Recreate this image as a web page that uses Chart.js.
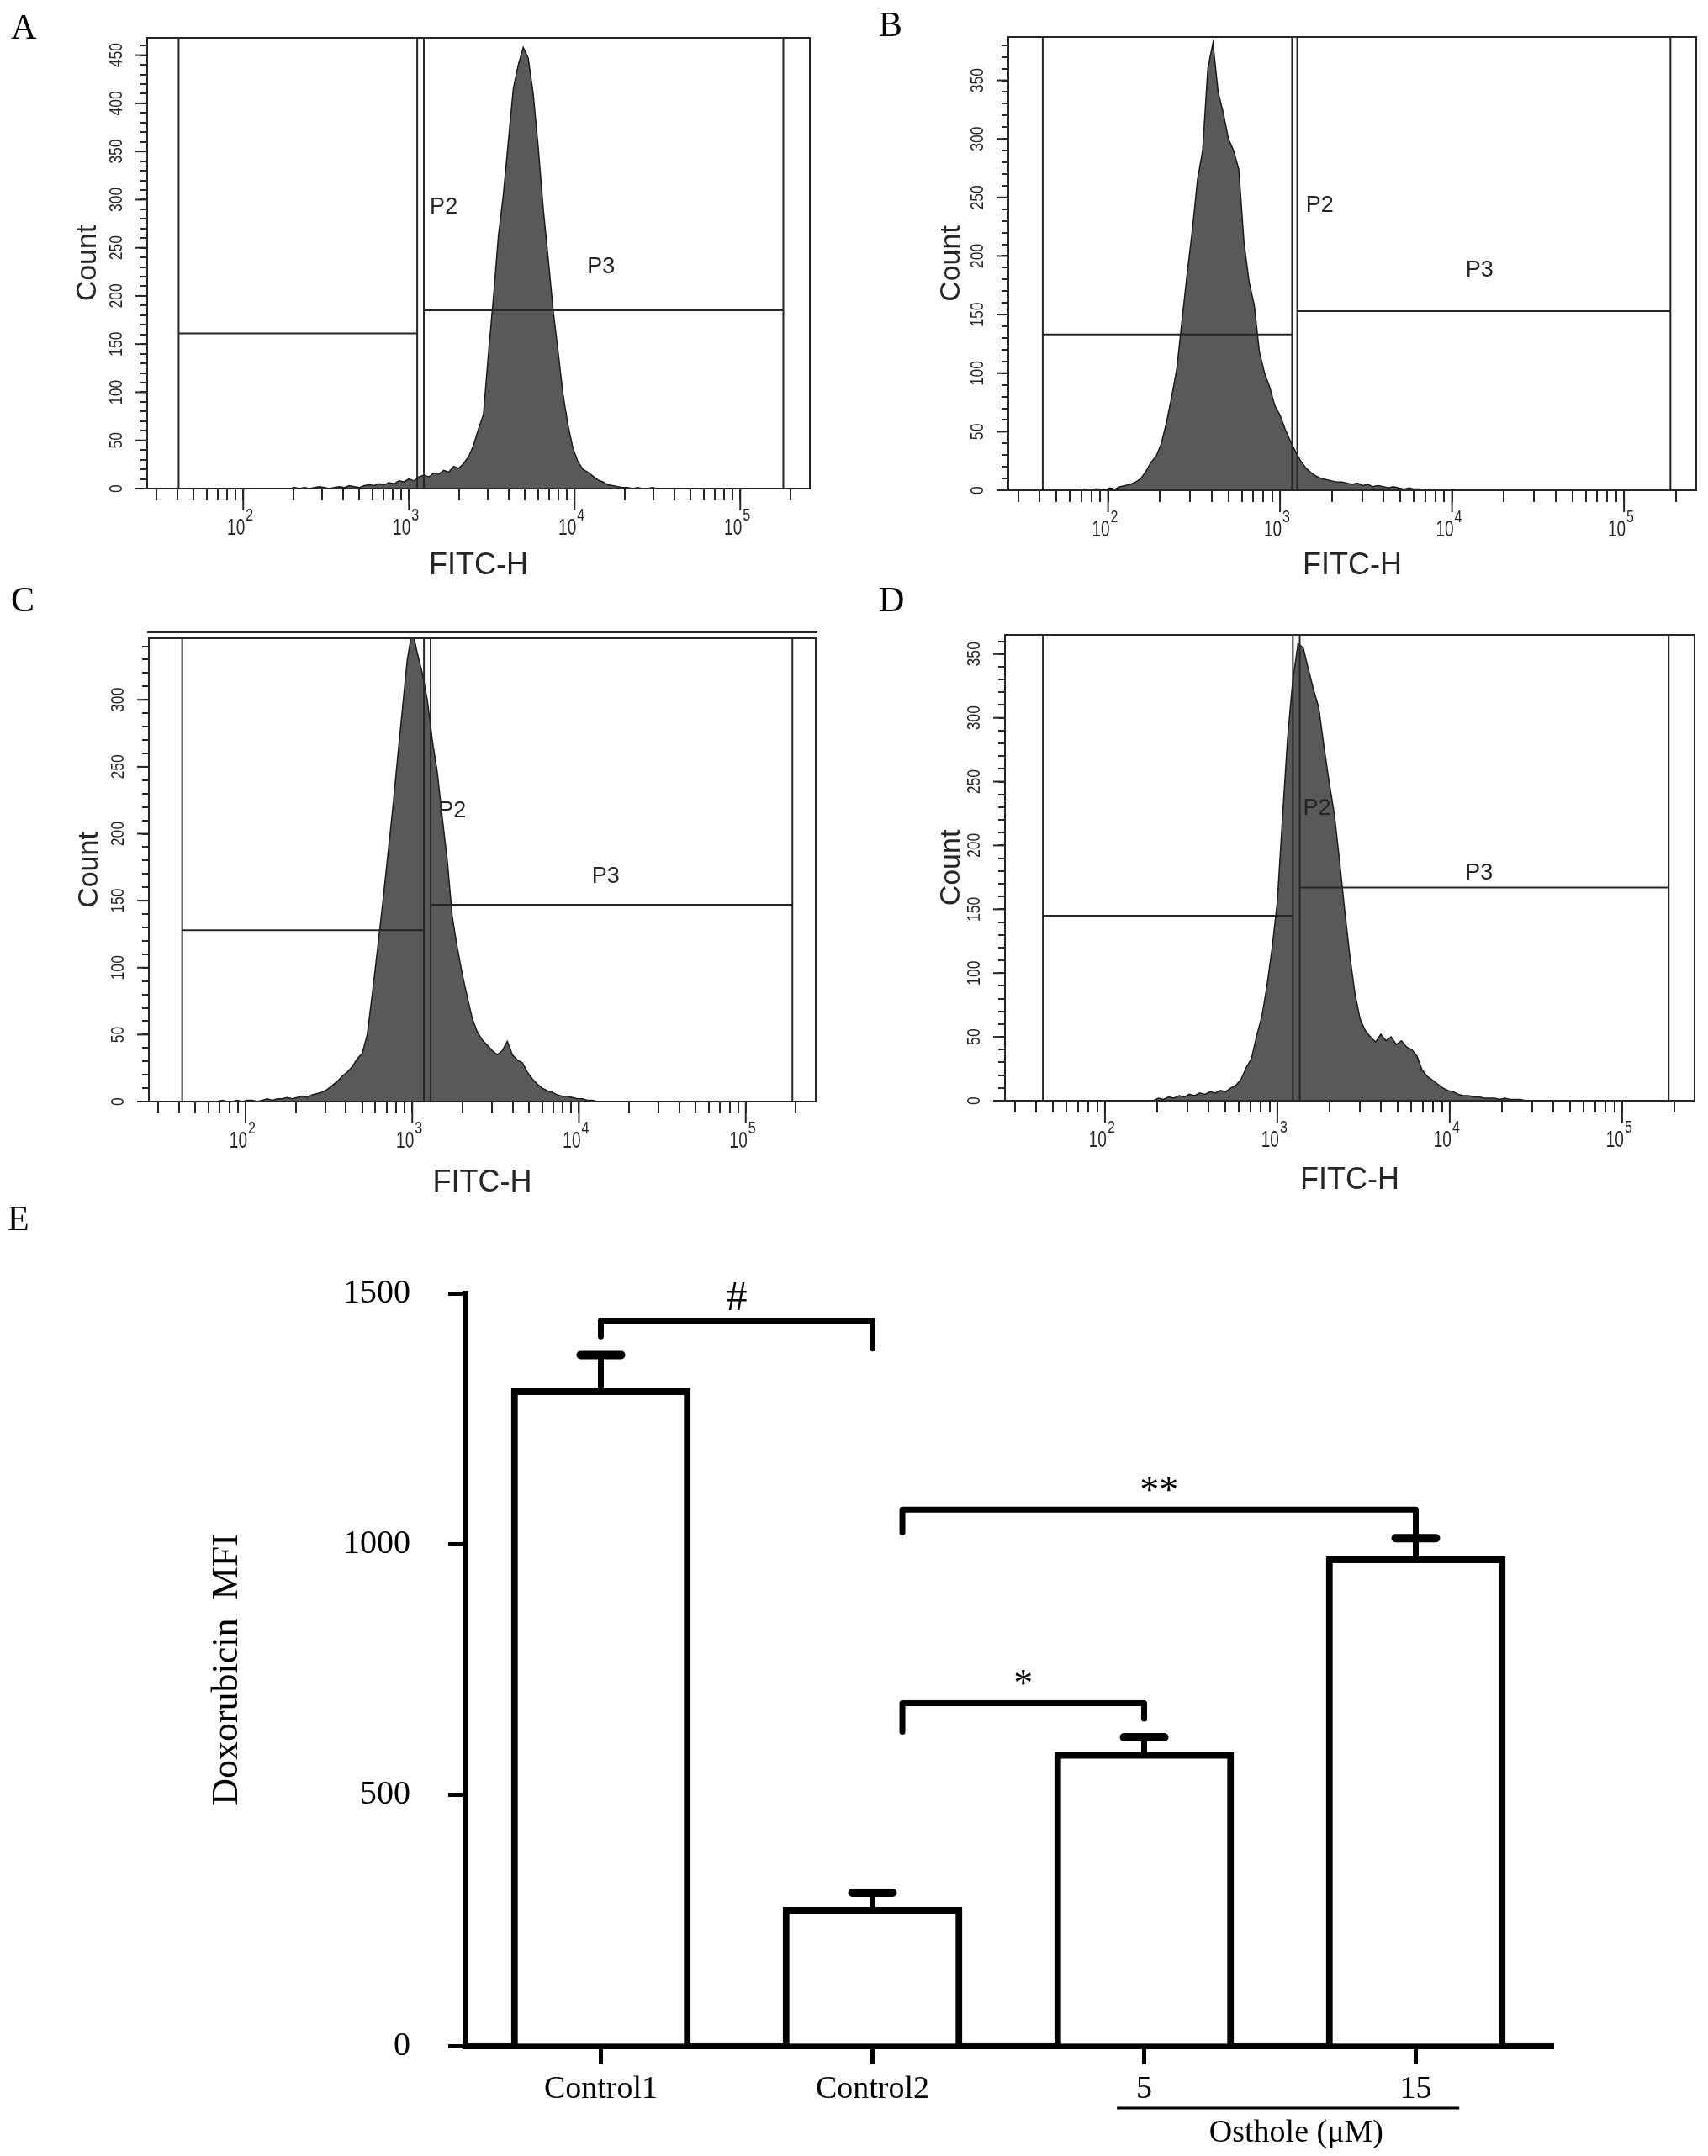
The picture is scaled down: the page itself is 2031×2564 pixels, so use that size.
<!DOCTYPE html>
<html>
<head>
<meta charset="utf-8">
<title>Doxorubicin MFI</title>
<script src="https://cdn.jsdelivr.net/npm/chart.js@4.4.1/dist/chart.umd.min.js"></script>
<style>
  html, body { margin: 0; padding: 0; background: #fff; }
  #fig { position: relative; width: 2031px; height: 2564px; background: #fff; overflow: hidden; }
  #fig canvas { position: absolute; }
  .tag { position: absolute; z-index: 5; font-family: "Liberation Serif", "Times New Roman", serif; font-size: 42px; line-height: 1; color: #000; }
</style>
</head>
<body>
<div id="fig">
  <canvas id="cA" width="1010" height="700" style="left:0;top:0"></canvas>
  <canvas id="cB" width="1021" height="700" style="left:1010px;top:0"></canvas>
  <canvas id="cC" width="1010" height="720" style="left:0;top:720px"></canvas>
  <canvas id="cD" width="1021" height="720" style="left:1010px;top:720px"></canvas>
  <canvas id="cE" width="2031" height="1144" style="left:0;top:1420px"></canvas>
  <div class="tag" style="left:13px;top:11px">A</div>
  <div class="tag" style="left:1045px;top:8px">B</div>
  <div class="tag" style="left:13px;top:692px">C</div>
  <div class="tag" style="left:1045px;top:692px">D</div>
  <div class="tag" style="left:9px;top:1428px">E</div>
</div>
<script>
// ---- flow cytometry histograms (A-D) ----

// FITC-H bin centres, log10 units
const fitcBins = [
  1.80, 1.83, 1.86, 1.89, 1.92, 1.95, 1.98, 2.01, 2.04, 2.07,
  2.10, 2.13, 2.16, 2.19, 2.22, 2.25, 2.28, 2.31, 2.34, 2.37,
  2.40, 2.43, 2.46, 2.49, 2.52, 2.55, 2.58, 2.61, 2.64, 2.67,
  2.70, 2.73, 2.76, 2.79, 2.82, 2.85, 2.88, 2.91, 2.94, 2.97,
  3.00, 3.03, 3.06, 3.09, 3.12, 3.15, 3.18, 3.21, 3.24, 3.27,
  3.30, 3.33, 3.36, 3.39, 3.42, 3.45, 3.48, 3.51, 3.54, 3.57,
  3.60, 3.63, 3.66, 3.69, 3.72, 3.75, 3.78, 3.81, 3.84, 3.87,
  3.90, 3.93, 3.96, 3.99, 4.02, 4.05, 4.08, 4.11, 4.14, 4.17,
  4.20, 4.23, 4.26, 4.29, 4.32, 4.35, 4.38, 4.41, 4.44, 4.47,
  4.50
];

const countsA = [
  0, 0, 0, 0, 0, 0, 0, 0, 0, 0,
  0, 0, 0, 0, 0, 0, 0, 1, 0, 1,
  0, 1, 2, 1, 0, 1, 2, 1, 3, 2,
  1, 3, 4, 3, 5, 4, 6, 5, 8, 7,
  10, 8, 12, 14, 12, 16, 15, 19, 17, 23,
  21, 26, 33, 45, 62, 77, 140, 198, 262, 305,
  360, 415, 440, 458, 447, 410, 355, 292, 240, 186,
  143, 98, 66, 42, 28, 20, 17, 13, 9, 7,
  4, 3, 2, 1, 1, 0, 1, 0, 0, 1,
  0
];

const countsB = [
  0, 0, 1, 0, 1, 1, 0, 2, 1, 3,
  4, 5, 7, 10, 16, 24, 29, 40, 58, 80,
  104, 145, 185, 222, 265, 290, 360, 382, 340, 322,
  300, 290, 274, 212, 178, 158, 118, 100, 88, 72,
  64, 52, 42, 33, 25, 19, 15, 12, 10, 9,
  8, 7, 7, 6, 5, 6, 4, 5, 3, 4,
  3, 2, 3, 2, 1, 2, 1, 1, 0, 1,
  0, 0, 0, 1, 0, 0, 0, 0, 0, 0,
  0, 0, 0, 0, 0, 0, 0, 0, 0, 0,
  0
];

const countsC = [
  0, 0, 1, 0, 0, 1, 0, 1, 1, 0,
  1, 2, 1, 2, 2, 3, 2, 3, 4, 3,
  5, 6, 7, 9, 12, 15, 19, 22, 26, 32,
  36, 50, 80, 112, 145, 180, 215, 254, 292, 330,
  352, 335, 320, 300, 270, 246, 212, 180, 138, 115,
  95, 78, 62, 52, 46, 42, 38, 35, 38, 45,
  35, 31, 29, 22, 17, 13, 10, 8, 7, 5,
  4, 4, 3, 2, 2, 1, 1, 0, 0, 0,
  0, 0, 0, 0, 0, 0, 0, 0, 0, 0,
  0
];

const countsD = [
  0, 0, 0, 0, 0, 0, 0, 0, 0, 0,
  0, 0, 0, 0, 0, 0, 0, 2, 1, 3,
  2, 4, 3, 5, 4, 6, 5, 7, 6, 8,
  7, 10, 12, 17, 26, 33, 51, 66, 90, 120,
  156, 222, 285, 330, 358, 355, 338, 322, 308, 278,
  250, 225, 189, 150, 114, 84, 64, 55, 50, 46,
  52, 47, 50, 44, 47, 42, 40, 35, 24, 19,
  16, 13, 10, 8, 7, 5, 4, 4, 3, 3,
  2, 2, 2, 1, 2, 1, 1, 1, 0, 0,
  0
];

// gates: [left log10, right log10, height in counts]
const gateP2A = [1.61, 3.05, 161];
const gateP3A = [3.09, 5.26, 185];
const gateP2B = [1.62, 3.07, 133];
const gateP3B = [3.10, 5.27, 153];
const gateP2C = [1.62, 3.07, 128];
const gateP3C = [3.11, 5.28, 147];
const gateP2D = [1.64, 3.09, 145];
const gateP3D = [3.13, 5.27, 167];

// top of the count axis for A, B, C, D
const countMax = [468, 387, 346, 365];

// ---- bar chart (E) ----
const groups = ['Control1', 'Control2', '5', '15'];
const mfiMean = [1310, 276, 585, 975];
const mfiErr = [67, 29, 30, 37];
const mfiTicks = [0, 500, 1000, 1500];

// significance brackets
const sigLabels = ['#', '*', '**'];
const sigFrom = [0, 1.11, 1.11];
const sigTo = [1, 2, 3];
const sigLevel = [1445, 683, 1069];
const sigDropL = [1414, 626, 1023];
const sigDropR = [1390, 652, 1021];

const sansFont = '"Liberation Sans", Arial, sans-serif';
const serifFont = '"Liberation Serif", "Times New Roman", serif';
const ink = '#262626';

// minor/major ticks of a log axis drawn in log10 units
function logTicks(scale) {
    const out = [];
    for (let e = 1; e <= 5; e++) {
        for (let m = 1; m <= 9; m++) {
            const v = e + Math.log10(m);
            if (v >= scale.min && v <= scale.max) out.push({ value: v });
        }
    }
    scale.ticks = out;
}

// narrow text, like the cytometer software prints it
function narrowText(ctx, text, x, y, size, squeeze, align, angle) {
    ctx.save();
    ctx.translate(x, y);
    if (angle) ctx.rotate(angle);
    ctx.scale(squeeze, 1);
    ctx.font = size + 'px ' + sansFont;
    ctx.textAlign = align;
    ctx.fillText(text, 0, 0);
    ctx.restore();
}

// frame, long ticks, tick labels and gate names
const facsDecor = {
    id: 'facsDecor',
    afterDraw(chart, args, opts) {
        const { ctx, chartArea: a, scales: { x, y } } = chart;
        ctx.save();
        ctx.strokeStyle = ink;
        ctx.lineWidth = 2;
        ctx.strokeRect(a.left, a.top, a.right - a.left, a.bottom - a.top);
        if (opts.doubleTop) {
            ctx.beginPath();
            ctx.moveTo(a.left - 2, a.top - 7);
            ctx.lineTo(a.right + 2, a.top - 7);
            ctx.stroke();
        }

        ctx.fillStyle = ink;
        ctx.textBaseline = 'middle';

        // count labels, rotated, with longer ticks
        y.ticks.forEach(t => {
            if (t.value % 50 !== 0) return;
            const py = y.getPixelForValue(t.value);
            ctx.beginPath();
            ctx.moveTo(a.left, py);
            ctx.lineTo(a.left - 14, py);
            ctx.stroke();
            if (t.value > y.max - 5) return;
            narrowText(ctx, String(t.value), a.left - 36, py, 22, 0.8, 'center', -Math.PI / 2);
        });

        // decade labels 10^n with longer ticks
        for (let e = 2; e <= 5; e++) {
            const px = x.getPixelForValue(e);
            ctx.beginPath();
            ctx.moveTo(px, a.bottom);
            ctx.lineTo(px, a.bottom + 26);
            ctx.stroke();
            ctx.textBaseline = 'alphabetic';
            narrowText(ctx, '10', px + 2, a.bottom + 55, 28, 0.68, 'right', 0);
            narrowText(ctx, String(e), px + 3, a.bottom + 38, 20, 0.8, 'left', 0);
        }

        ctx.textAlign = 'center';
        ctx.textBaseline = 'middle';
        ctx.font = '27px ' + sansFont;
        opts.names.forEach(n => {
            ctx.fillText(n[0], x.getPixelForValue(n[1]), y.getPixelForValue(n[2]));
        });
        ctx.restore();
    }
};

function drawFacs(id, counts, yMax, p2, p3, names, geo) {
    const gateLine = g => [
        { x: g[0], y: yMax }, { x: g[0], y: 0 }, { x: g[0], y: null },
        { x: g[0], y: g[2] }, { x: g[1], y: g[2] }, { x: g[1], y: null },
        { x: g[1], y: yMax }, { x: g[1], y: 0 }
    ];
    const gateStyle = { borderColor: ink, borderWidth: 2, pointRadius: 0, fill: false, spanGaps: false, order: 1 };

    return new Chart(document.getElementById(id), {
        type: 'line',
        data: {
            datasets: [
                {
                    data: fitcBins.map((b, i) => ({ x: b, y: counts[i] })),
                    fill: 'origin',
                    backgroundColor: '#595959',
                    borderColor: '#1a1a1a',
                    borderWidth: 1.5,
                    pointRadius: 0,
                    tension: 0,
                    order: 2
                },
                Object.assign({ data: gateLine(p2) }, gateStyle),
                Object.assign({ data: gateLine(p3) }, gateStyle)
            ]
        },
        options: {
            responsive: false,
            animation: false,
            devicePixelRatio: 1,
            layout: { padding: { left: 0, top: geo.top, right: geo.w - geo.right, bottom: 0 } },
            plugins: {
                legend: { display: false },
                tooltip: { enabled: false },
                facsDecor: { names: names, doubleTop: !!geo.doubleTop }
            },
            scales: {
                x: {
                    type: 'linear',
                    min: 1.42,
                    max: 5.42,
                    afterBuildTicks: logTicks,
                    afterFit: s => { s.height = geo.h - geo.bottom; },
                    ticks: { display: false, autoSkip: false },
                    grid: { display: true, drawOnChartArea: false, tickLength: 14, lineWidth: 2, color: ink },
                    border: { display: true, color: ink, width: 2 },
                    title: {
                        display: true,
                        text: 'FITC-H',
                        font: { family: sansFont, size: 36 },
                        color: ink,
                        padding: { top: 0, bottom: geo.titlePad }
                    }
                },
                y: {
                    type: 'linear',
                    min: 0,
                    max: yMax,
                    afterBuildTicks: s => {
                        const t = [];
                        for (let v = 0; v <= yMax; v += 10) t.push({ value: v });
                        s.ticks = t;
                    },
                    afterFit: s => { s.width = geo.left; },
                    ticks: { display: false, autoSkip: false },
                    grid: { display: true, drawOnChartArea: false, tickLength: 8, lineWidth: 2, color: ink },
                    border: { display: true, color: ink, width: 2 },
                    title: {
                        display: true,
                        text: 'Count',
                        font: { family: sansFont, size: 34 },
                        color: ink,
                        padding: { top: geo.countPad, bottom: 0 }
                    }
                }
            }
        },
        plugins: [facsDecor]
    });
}

drawFacs('cA', countsA, countMax[0], gateP2A, gateP3A,
    [['P2', 3.21, 292], ['P3', 4.16, 230]],
    { w: 1010, h: 700, left: 175, right: 963, top: 45, bottom: 581, countPad: 84, titlePad: 5 });

drawFacs('cB', countsB, countMax[1], gateP2B, gateP3B,
    [['P2', 3.23, 243], ['P3', 4.16, 188]],
    { w: 1021, h: 700, left: 189, right: 1007, top: 44, bottom: 583, countPad: 101, titlePad: 5 });

drawFacs('cC', countsC, countMax[2], gateP2C, gateP3C,
    [['P2', 3.24, 217], ['P3', 4.16, 168]],
    { w: 1010, h: 720, left: 177, right: 970, top: 39, bottom: 590, countPad: 86, titlePad: 11, doubleTop: true });

drawFacs('cD', countsD, countMax[3], gateP2D, gateP3D,
    [['P2', 3.23, 229], ['P3', 4.17, 178]],
    { w: 1021, h: 720, left: 185, right: 1005, top: 35, bottom: 589, countPad: 101, titlePad: 14 });

// error bars, significance brackets, Osthole group line
const mfiDecor = {
    id: 'mfiDecor',
    afterDatasetsDraw(chart) {
        const { ctx, scales: { x, y } } = chart;
        const bars = chart.getDatasetMeta(0).data;
        ctx.save();
        ctx.strokeStyle = '#000';
        ctx.fillStyle = '#000';
        ctx.lineCap = 'round';
        ctx.lineJoin = 'round';

        bars.forEach((bar, i) => {
            const top = y.getPixelForValue(mfiMean[i] + mfiErr[i]);
            ctx.lineWidth = 7;
            ctx.beginPath();
            ctx.moveTo(bar.x, bar.y);
            ctx.lineTo(bar.x, top);
            ctx.stroke();
            ctx.lineWidth = 10;
            ctx.beginPath();
            ctx.moveTo(bar.x - 24, top);
            ctx.lineTo(bar.x + 24, top);
            ctx.stroke();
        });

        ctx.lineWidth = 7;
        ctx.textAlign = 'center';
        ctx.textBaseline = 'alphabetic';
        sigLabels.forEach((lab, i) => {
            const xl = x.getPixelForValue(sigFrom[i]);
            const xr = x.getPixelForValue(sigTo[i]);
            const yl = y.getPixelForValue(sigLevel[i]);
            ctx.beginPath();
            ctx.moveTo(xl, y.getPixelForValue(sigDropL[i]));
            ctx.lineTo(xl, yl);
            ctx.lineTo(xr, yl);
            ctx.lineTo(xr, y.getPixelForValue(sigDropR[i]));
            ctx.stroke();
            const star = lab.indexOf('*') >= 0;
            ctx.font = (star ? 46 : 50) + 'px ' + serifFont;
            ctx.fillText(lab, (xl + xr) / 2, yl - (star ? 8 : 13));
        });
        ctx.restore();
    },
    afterDraw(chart) {
        const { ctx, scales: { x } } = chart;
        ctx.save();
        ctx.strokeStyle = '#000';
        ctx.lineWidth = 3;
        ctx.beginPath();
        ctx.moveTo(x.getPixelForValue(1.90), 1087);
        ctx.lineTo(x.getPixelForValue(3.16), 1087);
        ctx.stroke();
        ctx.fillStyle = '#000';
        ctx.font = '38px ' + serifFont;
        ctx.textAlign = 'center';
        ctx.textBaseline = 'middle';
        ctx.fillText('Osthole (μM)', x.getPixelForValue(2.56), 1117);
        ctx.restore();
    }
};

new Chart(document.getElementById('cE'), {
    type: 'bar',
    data: {
        labels: groups,
        datasets: [{
            data: mfiMean,
            backgroundColor: '#fff',
            borderColor: '#000',
            borderWidth: 8,
            borderSkipped: 'start',
            barThickness: 213
        }]
    },
    options: {
        responsive: false,
        animation: false,
        devicePixelRatio: 1,
        layout: { padding: { left: 0, top: 118, right: 186, bottom: 0 } },
        plugins: { legend: { display: false }, tooltip: { enabled: false } },
        scales: {
            x: {
                offset: true,
                afterFit: s => { s.height = 131; },
                grid: { display: true, drawOnChartArea: false, offset: false, tickLength: 22, lineWidth: 5, color: '#000' },
                border: { display: true, width: 7, color: '#000' },
                ticks: { font: { family: serifFont, size: 38 }, color: '#000', padding: 7, maxRotation: 0 }
            },
            y: {
                min: 0,
                max: 1500,
                afterBuildTicks: s => { s.ticks = mfiTicks.map(v => ({ value: v })); },
                afterFit: s => { s.width = 553; },
                grid: { display: true, drawOnChartArea: false, tickLength: 20, lineWidth: 5, color: '#000' },
                border: { display: true, width: 7, color: '#000' },
                ticks: { font: { family: serifFont, size: 40 }, color: '#000', padding: 45, callback: v => String(v) },
                title: {
                    display: true,
                    text: 'Doxorubicin  MFI',
                    font: { family: serifFont, size: 44 },
                    color: '#000',
                    padding: { top: 244, bottom: 0 }
                }
            }
        }
    },
    plugins: [mfiDecor]
});
</script>
</body>
</html>
